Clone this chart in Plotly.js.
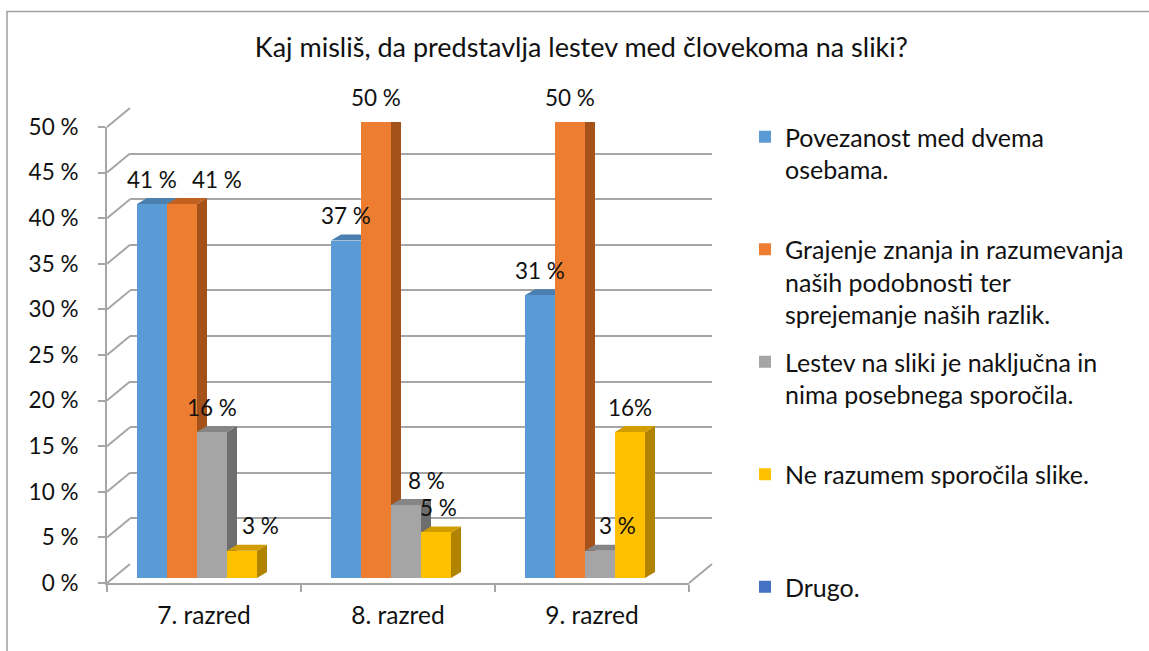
<!DOCTYPE html>
<html><head><meta charset="utf-8">
<script src="https://cdn.plot.ly/plotly-3.0.1.min.js"></script>
<style>html,body{margin:0;padding:0;background:#fff}#chart{width:1149px;height:651px}</style>
</head><body><div id="chart"></div>
<script>
// ---------- data ----------
const chartTitle = 'Kaj misliš, da predstavlja lestev med človekoma na sliki?';
const categories = ['7. razred', '8. razred', '9. razred'];
const seriesNames = [
  'Povezanost med dvema<br>osebama.',
  'Grajenje znanja in razumevanja<br>naših podobnosti ter<br>sprejemanje naših razlik.',
  'Lestev na sliki je naključna in<br>nima posebnega sporočila.',
  'Ne razumem sporočila slike.',
  'Drugo.'
];
const povezanost = [41, 37, 31];
const grajenje   = [41, 50, 50];
const lestev     = [16, 8, 3];
const neRazumem  = [3, 5, 16];
const drugo      = [null, null, null];
const labelsPovezanost = ['41 %', '37 %', '31 %'];
const labelsGrajenje   = ['41 %', '50 %', '50 %'];
const labelsLestev     = ['16 %', '8 %', '3 %'];
const labelsNeRazumem  = ['3 %', '5 %', '16%'];
const labelsDrugo      = [null, null, null];
const yTickVals   = [0, 5, 10, 15, 20, 25, 30, 35, 40, 45, 50];
const yTickLabels = ['0 %', '5 %', '10 %', '15 %', '20 %', '25 %', '30 %', '35 %', '40 %', '45 %', '50 %'];

// ---------- styling / geometry ----------
const W = 1149, H = 651;
const X = px => px / W, Y = py => 1 - py / H;
const FONT = 'Lato, "Open Sans", sans-serif';
const TXT = '#111111';
const GRID = '#a6a6a6';
const colors = ['#5b9bd5', '#ed7d31', '#a5a5a5', '#ffc000', '#4472c4'];
const tops   = ['#4a7fb0', '#c2611f', '#858585', '#d19d00', '#365f9f'];
const sides  = ['#3f6f9a', '#a4521a', '#6e6e6e', '#b08400', '#2f5387'];
const front = {x0: 107, x1: 689, y0: 583, y1: 127};
const back  = {x0: 130, x1: 712, y0: 564, y1: 108};
const barPlane = {y0: 578, y1: 122};
const catPx = (front.x1 - front.x0) / categories.length;
const pxPerUnit = (front.y0 - front.y1) / 50;
const barW = 30 / catPx;
const firstOff = -67 / catPx;
const depthX = 10 / catPx, depthY = 6 / pxPerUnit;
const labelNudge = [[0, 0, 0], [35, 0, 0], [0, 20, 17], [18, 2, 0]];

const allValues = [povezanost, grajenje, lestev, neRazumem, drugo];
const allLabels = [labelsPovezanost, labelsGrajenje, labelsLestev, labelsNeRazumem, labelsDrugo];
const xIdx = categories.map((c, i) => i);
const maxLines = Math.max(...seriesNames.map(s => s.split('<br>').length));
// pad every entry but the last so the legend rows are evenly spaced
const padName = (s, i) => i === seriesNames.length - 1 ? s : s + '<br> '.repeat(maxLines - s.split('<br>').length);

const traces = allValues.map((vals, i) => ({
  type: 'bar', name: padName(seriesNames[i], i), x: xIdx, y: vals,
  xaxis: 'x3', yaxis: 'y3', width: barW, offset: firstOff + i * barW,
  marker: {color: colors[i], line: {width: 0}},
  legendgroup: 'g' + i, hoverinfo: 'skip'
}));

const shapes = [];
// chart border
shapes.push({type: 'rect', xref: 'paper', yref: 'paper', x0: X(7), y0: Y(11.5), x1: 1.1, y1: -0.1,
  line: {color: '#a0a0a0', width: 1.5}, fillcolor: 'rgba(0,0,0,0)'});
// side-wall diagonals joining front ticks to back wall
yTickVals.forEach(v => {
  shapes.push({type: 'line', xref: 'paper', yref: 'paper',
    x0: X(front.x0), y0: Y(front.y0 - v * pxPerUnit),
    x1: X(back.x0), y1: Y(back.y0 - v * pxPerUnit),
    line: {color: GRID, width: 2}});
});
// floor right edge
shapes.push({type: 'line', xref: 'paper', yref: 'paper',
  x0: X(front.x1), y0: Y(front.y0), x1: X(back.x1), y1: Y(back.y0),
  line: {color: GRID, width: 2}});
// 3D faces of bars
categories.forEach((c, j) => {
  allValues.forEach((vals, i) => {
    const v = vals[j];
    if (v === null || v === undefined) return;
    const xl = j + firstOff + i * barW, xr = xl + barW;
    shapes.push({type: 'path', xref: 'x3', yref: 'y3', layer: 'below',
      path: `M${xr},0 L${xr + depthX},${depthY} L${xr + depthX},${v + depthY} L${xr},${v} Z`,
      fillcolor: sides[i], line: {width: 0}});
    shapes.push({type: 'path', xref: 'x3', yref: 'y3', layer: 'below',
      path: `M${xl},${v} L${xr},${v} L${xr + depthX},${v + depthY} L${xl + depthX},${v + depthY} Z`,
      fillcolor: tops[i], line: {width: 0}});
  });
});

const annotations = [];
categories.forEach((c, j) => {
  allValues.forEach((vals, i) => {
    const v = vals[j];
    if (v === null || v === undefined) return;
    annotations.push({xref: 'x3', yref: 'y3', x: j + firstOff + i * barW + barW / 2, y: v,
      text: allLabels[i][j], showarrow: false, yshift: 25, xshift: labelNudge[i][j],
      xanchor: 'center', yanchor: 'middle', font: {family: FONT, size: 22.5, color: TXT}});
  });
});

const layout = {
  width: W, height: H,
  margin: {l: 0, r: 0, t: 0, b: 0},
  paper_bgcolor: '#ffffff', plot_bgcolor: 'rgba(0,0,0,0)',
  font: {family: FONT, size: 22, color: TXT},
  title: {text: chartTitle, x: 0.506, xanchor: 'center', y: Y(48), yanchor: 'middle',
    font: {family: FONT, size: 27, color: TXT}},
  showlegend: true,
  legend: {x: X(745), y: Y(114), xanchor: 'left', yanchor: 'top', valign: 'top',
    traceorder: 'grouped', tracegroupgap: 12, bgcolor: 'rgba(0,0,0,0)',
    font: {family: FONT, size: 25, color: TXT}},
  // back wall with gridlines
  xaxis: {domain: [X(back.x0), X(back.x1)], range: [0, 1], visible: false, anchor: 'y', fixedrange: true},
  yaxis: {domain: [Y(back.y0), Y(back.y1)], range: [0, 50], anchor: 'x', showgrid: true, gridcolor: GRID,
    gridwidth: 2, tickvals: yTickVals, showticklabels: false, ticks: '', zeroline: false, showline: false, fixedrange: true},
  // front plane with axes and labels
  xaxis2: {domain: [X(front.x0), X(front.x1)], anchor: 'y2', type: 'category',
    categoryorder: 'array', categoryarray: categories, range: [-0.5, categories.length - 0.5],
    tickson: 'boundaries', ticks: 'outside', ticklen: 7, tickwidth: 2, tickcolor: GRID,
    showline: true, linecolor: GRID, linewidth: 2, showgrid: false, zeroline: false,
    ticklabelstandoff: 10, tickfont: {family: FONT, size: 24.5, color: TXT}, fixedrange: true},
  yaxis2: {domain: [Y(front.y0), Y(front.y1)], anchor: 'x2', range: [0, 50],
    tickvals: yTickVals, ticktext: yTickLabels, ticks: 'outside', ticklen: 7, tickwidth: 2, tickcolor: GRID,
    showline: true, linecolor: GRID, linewidth: 2, showgrid: false, zeroline: false,
    ticklabelstandoff: 15, tickfont: {family: FONT, size: 22.5, color: TXT}, fixedrange: true},
  // bar plane
  xaxis3: {domain: [X(front.x0), X(front.x1)], anchor: 'y3', range: [-0.5, categories.length - 0.5], visible: false, fixedrange: true},
  yaxis3: {domain: [Y(barPlane.y0), Y(barPlane.y1)], anchor: 'x3', range: [0, 50], visible: false, fixedrange: true},
  shapes: shapes,
  annotations: annotations,
  bargap: 0
};

// invisible traces to instantiate the wall and front axes
const axisTrace = {type: 'scatter', x: categories, y: [null, null, null], xaxis: 'x2', yaxis: 'y2',
  showlegend: false, hoverinfo: 'skip', mode: 'markers'};
const wallTrace = {type: 'scatter', x: [0], y: [null], xaxis: 'x', yaxis: 'y', showlegend: false, hoverinfo: 'skip', mode: 'markers'};

Plotly.newPlot('chart', [wallTrace, axisTrace].concat(traces), layout, {staticPlot: true, displayModeBar: false});
</script>
</body></html>
